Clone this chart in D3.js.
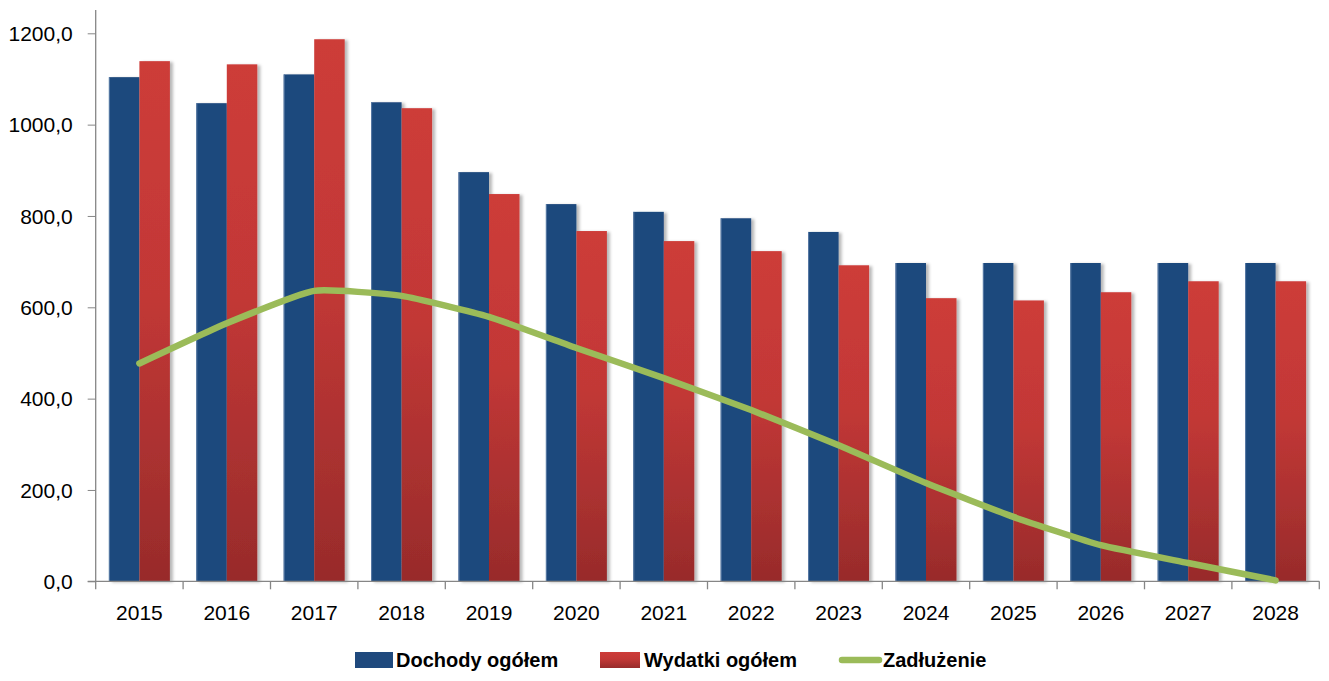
<!DOCTYPE html>
<html>
<head>
<meta charset="utf-8">
<script src="https://cdn.jsdelivr.net/npm/d3@7"></script>
<style>
  html, body { margin: 0; padding: 0; background: #fff; }
  svg { display: block; font-family: "Liberation Sans", Arial, sans-serif; }
</style>
</head>
<body>
<svg id="chart" width="1329" height="681"></svg>
<script>
const years = ["2015","2016","2017","2018","2019","2020","2021","2022","2023","2024","2025","2026","2027","2028"];
const dochody = [1104, 1047, 1110, 1049, 896, 826, 809, 795, 765, 697, 697, 697, 697, 697];
const wydatki = [1139, 1132, 1187, 1036, 848, 767, 745, 723, 692, 620, 615, 633, 657, 657];
const zadluzenie = [477, 565, 636, 625, 579, 511, 445, 375, 298, 215, 141, 79, 40, 2];
const yTicks = [0, 200, 400, 600, 800, 1000, 1200];
const seriesNames = ["Dochody ogółem", "Wydatki ogółem", "Zadłużenie"];

const svg = d3.select("#chart");
const left = 95.7, right = 1319.3, y0 = 581.3, y1200 = 33.3;

const x = d3.scaleBand().domain(years).range([left, right]).paddingInner(0).paddingOuter(0);
const y = d3.scaleLinear().domain([0, 1200]).range([y0, y1200]);
const barW = 30.5;

const defs = svg.append("defs");
const grad = defs.append("linearGradient").attr("id", "redGrad")
  .attr("x1", 0).attr("y1", 0).attr("x2", 0).attr("y2", 1);
grad.append("stop").attr("offset", "0%").attr("stop-color", "#CD3C39");
grad.append("stop").attr("offset", "45%").attr("stop-color", "#C23836");
grad.append("stop").attr("offset", "100%").attr("stop-color", "#982B2B");

const flt = defs.append("filter").attr("id", "shadow")
  .attr("x", "-20%").attr("y", "-5%").attr("width", "150%").attr("height", "115%");
flt.append("feDropShadow").attr("dx", 3).attr("dy", 1).attr("stdDeviation", 1.8)
  .attr("flood-color", "#000").attr("flood-opacity", 0.28);

// Y axis
const yAxis = d3.axisLeft(y).tickValues(yTicks)
  .tickFormat(d => d3.format(".1f")(d).replace(".", ","))
  .tickSize(8).tickSizeOuter(0).tickPadding(15);
const gy = svg.append("g").attr("transform", `translate(${left},0)`).call(yAxis);
gy.select(".domain").remove();
gy.selectAll(".tick line").attr("stroke", "#868686");
gy.selectAll(".tick text").attr("font-size", 21).attr("fill", "#000").attr("dy", "0.34em");
svg.append("line").attr("x1", left).attr("x2", left).attr("y1", 10).attr("y2", y0)
  .attr("stroke", "#868686").attr("stroke-width", 1.3);

// Bars
const groups = svg.append("g").selectAll("g").data(years).join("g");
groups.append("rect")
  .attr("x", d => x(d) + x.bandwidth() / 2 - barW)
  .attr("y", (d, i) => y(dochody[i]))
  .attr("width", barW)
  .attr("height", (d, i) => y0 - y(dochody[i]))
  .attr("fill", "#1F497D")
  .attr("filter", "url(#shadow)");
groups.append("rect")
  .attr("x", d => x(d) + x.bandwidth() / 2)
  .attr("y", (d, i) => y(wydatki[i]))
  .attr("width", barW)
  .attr("height", (d, i) => y0 - y(wydatki[i]))
  .attr("fill", "url(#redGrad)")
  .attr("filter", "url(#shadow)");
groups.append("line")
  .attr("x1", d => x(d) + x.bandwidth() / 2 - barW + 0.5)
  .attr("x2", d => x(d) + x.bandwidth() / 2 - barW + 0.5)
  .attr("y1", (d, i) => y(dochody[i]))
  .attr("y2", y0)
  .attr("stroke", "#5A7BA6").attr("stroke-width", 1);

// X axis
const xAxis = d3.axisBottom(x).tickSize(0).tickPadding(24);
const gx = svg.append("g").attr("transform", `translate(0,${y0})`).call(xAxis);
gx.select(".domain").remove();
gx.selectAll(".tick text").attr("font-size", 21).attr("fill", "#000");
svg.append("line").attr("x1", left - 8).attr("x2", right).attr("y1", y0).attr("y2", y0)
  .attr("stroke", "#868686").attr("stroke-width", 1.3);
svg.append("g").selectAll("line").data(d3.range(years.length + 1)).join("line")
  .attr("x1", i => left + i * x.step()).attr("x2", i => left + i * x.step())
  .attr("y1", y0).attr("y2", y0 + 8)
  .attr("stroke", "#868686").attr("stroke-width", 1.3);

// Line
const line = d3.line()
  .x((d, i) => x(years[i]) + x.bandwidth() / 2)
  .y(d => y(d))
  .curve(d3.curveCardinal.tension(0.55));
svg.append("path").datum(zadluzenie)
  .attr("d", line)
  .attr("fill", "none")
  .attr("stroke", "#9BBB59")
  .attr("stroke-width", 6.5)
  .attr("stroke-linecap", "round")
  .attr("stroke-linejoin", "round");

// Legend
const lg = svg.append("g").attr("font-size", 20).attr("font-weight", "bold");
lg.append("rect").attr("x", 355).attr("y", 652).attr("width", 38).attr("height", 16).attr("fill", "#1F497D");
lg.append("text").attr("x", 396).attr("y", 667).text(seriesNames[0]);
lg.append("rect").attr("x", 600).attr("y", 652).attr("width", 40).attr("height", 16).attr("fill", "url(#redGrad)");
lg.append("text").attr("x", 644).attr("y", 667).text(seriesNames[1]);
lg.append("line").attr("x1", 842).attr("x2", 879).attr("y1", 660).attr("y2", 660)
  .attr("stroke", "#9BBB59").attr("stroke-width", 6.5).attr("stroke-linecap", "round");
lg.append("text").attr("x", 883).attr("y", 667).text(seriesNames[2]);
</script>
</body>
</html>
